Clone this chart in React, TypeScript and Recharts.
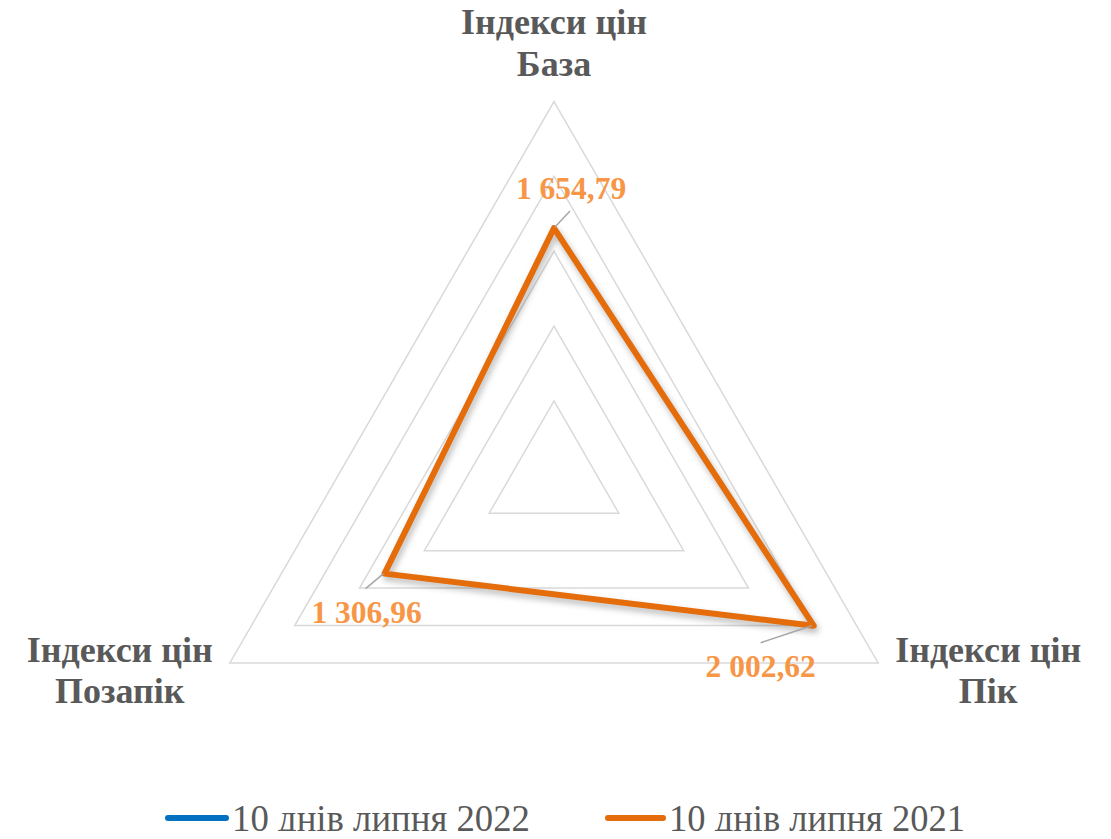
import React from 'react';
import { RadarChart, Radar, PolarGrid, PolarAngleAxis, PolarRadiusAxis, Legend } from 'recharts';

// ---- data ----
const categories = ['Індекси цін|База', 'Індекси цін|Пік', 'Індекси цін|Позапік'];
const values2021 = [1654.79, 2002.62, 1306.96];
const seriesNames = ['10 днів липня 2022', '10 днів липня 2021'];
const seriesColors = ['#0070C0', '#E46C0A'];
const radiusTicks = [0, 500, 1000, 1500, 2000, 2500];

const data = categories.map((c, i) => ({ category: c, y2021: values2021[i] }));

// ---- layout / style ----
const W = 1095;
const H = 831;
const CX = 546;
const CY = 467.8;
const R = 374.3;
const MAXV = radiusTicks[radiusTicks.length - 1];
const FONT = '"Liberation Serif", "Times New Roman", serif';
const GRAY = '#595959';
const LABEL_ORANGE = '#F79646';

const axisLabelOffsets = [
  { dx: 0, dy1: -67.5, dy2: -25.5 },
  { dx: 110, dy1: -1, dy2: 40 },
  { dx: -110, dy1: -1, dy2: 40 },
];

const dataLabelOffsets = [
  { dx: 17, dy: -29, lx1: 1, ly1: -1, lx2: 16, ly2: -17 },
  { dx: -53, dy: 51, lx1: -2, ly1: 0, lx2: -53, ly2: 17 },
  { dx: -18, dy: 49, lx1: -1, ly1: 0, lx2: -19, ly2: 15 },
];

const fmt = (v: number) => {
  const [i, d] = v.toFixed(2).split('.');
  return i.replace(/\B(?=(\d{3})+(?!\d))/g, ' ') + ',' + d;
};

const AngleTick = (props: any) => {
  const idx = props.index ?? 0;
  const angle = ((90 - idx * 120) * Math.PI) / 180;
  const vx = CX + R * Math.cos(angle);
  const vy = CY - R * Math.sin(angle);
  const o = axisLabelOffsets[idx];
  const [l1, l2] = String(props.payload?.value ?? '').split('|');
  return (
    <text
      x={vx + o.dx}
      textAnchor="middle"
      fontFamily={FONT}
      fontWeight="bold"
      fontSize={36}
      fill={GRAY}
    >
      <tspan x={vx + o.dx} y={vy + o.dy1}>{l1}</tspan>
      <tspan x={vx + o.dx} y={vy + o.dy2}>{l2}</tspan>
    </text>
  );
};

const DataLabel = (props: any) => {
  const { x, y, index, value } = props;
  if (x == null || y == null) return null;
  const o = dataLabelOffsets[index ?? 0];
  return (
    <g>
      <line
        x1={x + o.lx1}
        y1={y + o.ly1}
        x2={x + o.lx2}
        y2={y + o.ly2}
        stroke="#a6a6a6"
        strokeWidth={1.5}
      />
      <text
        x={x + o.dx}
        y={y + o.dy}
        textAnchor="middle"
        fontFamily={FONT}
        fontWeight="bold"
        fontSize={31.5}
        fill={LABEL_ORANGE}
      >
        {fmt(Number(value))}
      </text>
    </g>
  );
};

const LegendContent = () => (
  <svg width={W} height={40} style={{ display: 'block', overflow: 'visible' }}>
    <line x1={160} y1={20} x2={218} y2={20} stroke={seriesColors[0]} strokeWidth={6} strokeLinecap="round" />
    <text x={224} y={33} fontFamily={FONT} fontSize={37} fill={GRAY} textLength={298} lengthAdjust="spacingAndGlyphs">
      {seriesNames[0]}
    </text>
    <line x1={600} y1={20} x2={655} y2={20} stroke={seriesColors[1]} strokeWidth={6} strokeLinecap="round" />
    <text x={661} y={33} fontFamily={FONT} fontSize={37} fill={GRAY} textLength={296} lengthAdjust="spacingAndGlyphs">
      {seriesNames[1]}
    </text>
  </svg>
);

export default function App() {
  return (
    <div style={{ width: W, height: H, position: 'relative', marginBottom: -8 }}>
      <style>{`.recharts-radar-polygon path { filter: drop-shadow(2px 4px 3px rgba(0,0,0,0.28)); } .recharts-surface { overflow: visible; }`}</style>
      <RadarChart
        width={W}
        height={H}
        data={data}
        cx={CX}
        cy={CY}
        outerRadius={R}
        startAngle={90}
        endAngle={-270}
        margin={{ top: 0, right: 0, bottom: 0, left: 0 }}
      >
        <PolarGrid
          gridType="polygon"
          radialLines={false}
          stroke="#d9d9d9"
          strokeWidth={1.5}
          polarRadius={radiusTicks.slice(1).map((v) => (v / MAXV) * R)}
        />
        <PolarAngleAxis dataKey="category" tick={<AngleTick />} tickLine={false} axisLine={false} />
        <PolarRadiusAxis domain={[0, MAXV]} tickCount={6} tick={false} axisLine={false} />
        <Radar
          name={seriesNames[1]}
          dataKey="y2021"
          stroke={seriesColors[1]}
          strokeWidth={6}
          strokeLinejoin="round"
          fill="none"
          fillOpacity={0}
          dot={false}
          isAnimationActive={false}
          label={<DataLabel />}
        />
        <Legend
          content={<LegendContent />}
          wrapperStyle={{ position: 'absolute', top: 790, left: 0, width: W, height: 40 }}
        />
      </RadarChart>
    </div>
  );
}
